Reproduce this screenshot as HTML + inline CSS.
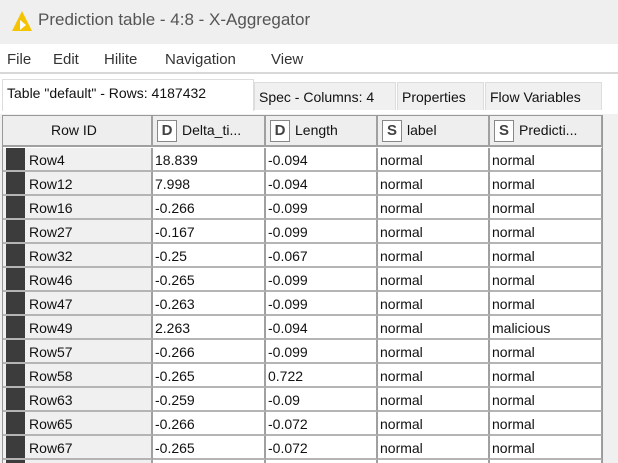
<!DOCTYPE html>
<html><head><meta charset="utf-8"><style>
*{margin:0;padding:0;box-sizing:border-box}
body{width:618px;height:463px;overflow:hidden;background:#f0f0f0;font-family:"Liberation Sans",sans-serif;position:relative}
.abs{position:absolute}
#title{left:0;top:0;width:618px;height:44px;background:#efefef}
#title span{position:absolute;left:38px;top:10px;font-size:17px;color:#555}
#menu{left:0;top:44px;width:618px;height:30px;background:#fff;border-bottom:2px solid #d8d8d8}
#menu span{position:absolute;top:7px;font-size:15px;color:#333}
#tabs{left:0;top:74px;width:618px;height:40px;background:#fff}
.tab{position:absolute;top:8px;height:28px;font-size:14px;color:#111;padding:6px 4px 0 4px;background:#f0f0f0;border:1px solid #ddd;border-bottom:none;white-space:nowrap}
.tab.sel{background:#fff;top:5px;height:32px;padding-top:5px}
#tbl{left:2px;top:115px;width:601px;height:348px;background:#fff;border:1px solid #999;border-bottom:none;overflow:hidden}
.hd{position:absolute;top:0;height:31px;background:#eeeeee;border-right:2px solid #a0a0a0;border-bottom:2px solid #a0a0a0;font-size:14px;color:#111}
.hd .ic{position:absolute;left:4px;top:4px;width:20px;height:22px;border:1px solid #888;background:#fff;font-weight:bold;font-size:15px;color:#444;text-align:center;line-height:20px}
.hd .t{position:absolute;left:29px;top:6px;white-space:nowrap}
.row{position:absolute;left:0;width:600px;height:24px}
.c{position:absolute;top:0;height:24px;border-right:2px solid #a0a0a0;border-bottom:2px solid #b4b4b4;font-size:14px;color:#111;padding:4px 0 0 2px;white-space:nowrap;overflow:hidden}
.rid{background:#f0f0f0;padding-left:26px}
.mk{position:absolute;left:3px;top:0;width:19px;height:22px;background:#3c3c3c}
</style></head><body>
<div id="title" class="abs">
<svg class="abs" style="left:11px;top:10px" width="22" height="22"><polygon points="11,1 21,21 1,21" fill="#f5c400"/><polygon points="9,10 15,15 9,20" fill="#fff"/></svg>
<span>Prediction table - 4:8 - X-Aggregator</span></div>
<div id="menu" class="abs">
<span style="left:7px">File</span>
<span style="left:53px">Edit</span>
<span style="left:104px">Hilite</span>
<span style="left:165px">Navigation</span>
<span style="left:271px">View</span></div>
<div id="tabs" class="abs">
<div class="tab sel" style="left:2px;width:252px">Table "default" - Rows: 4187432</div>
<div class="tab" style="left:254px;width:142px">Spec - Columns: 4</div>
<div class="tab" style="left:397px;width:87px">Properties</div>
<div class="tab" style="left:485px;width:117px">Flow Variables</div>
</div>
<div id="tbl" class="abs">
<div class="hd" style="left:0;width:150px"><span class="t" style="left:48px">Row ID</span></div>
<div class="hd" style="left:150px;width:113px"><div class="ic">D</div><span class="t">Delta_ti...</span></div>
<div class="hd" style="left:263px;width:112px"><div class="ic">D</div><span class="t">Length</span></div>
<div class="hd" style="left:375px;width:112px"><div class="ic">S</div><span class="t">label</span></div>
<div class="hd" style="left:487px;width:113px"><div class="ic">S</div><span class="t">Predicti...</span></div>
<div id="rows"></div>
</div>
<script>
const ids=["Row4","Row12","Row16","Row27","Row32","Row46","Row47","Row49","Row57","Row58","Row63","Row65","Row67","Row70"];
const delta=["18.839","7.998","-0.266","-0.167","-0.25","-0.265","-0.263","2.263","-0.266","-0.265","-0.259","-0.266","-0.265",""];
const len=["-0.094","-0.094","-0.099","-0.099","-0.067","-0.099","-0.099","-0.094","-0.099","0.722","-0.09","-0.072","-0.072",""];
const lab=["normal","normal","normal","normal","normal","normal","normal","normal","normal","normal","normal","normal","normal",""];
const pred=["normal","normal","normal","normal","normal","normal","normal","malicious","normal","normal","normal","normal","normal",""];
const cols=[[0,150],[150,113],[263,112],[375,112],[487,113]];
const R=document.getElementById('rows');
ids.forEach((id,i)=>{
 const r=document.createElement('div');r.className='row';r.style.top=(32+i*24)+'px';
 
 
 const vals=[id,delta[i],len[i],lab[i],pred[i]];
 vals.forEach((v,j)=>{
  const c=document.createElement('div');c.className='c'+(j==0?' rid':'');
  c.style.left=cols[j][0]+'px';c.style.width=cols[j][1]+'px';
  if(j==0){const m=document.createElement('div');m.className='mk';
   
   
   c.appendChild(m);}
  c.appendChild(document.createTextNode(i<13||j==0?v:''));
  if(i==13&&j==0)c.lastChild.textContent='';
  
  
  r.appendChild(c);});
 R.appendChild(r);});
</script>
</body></html>
